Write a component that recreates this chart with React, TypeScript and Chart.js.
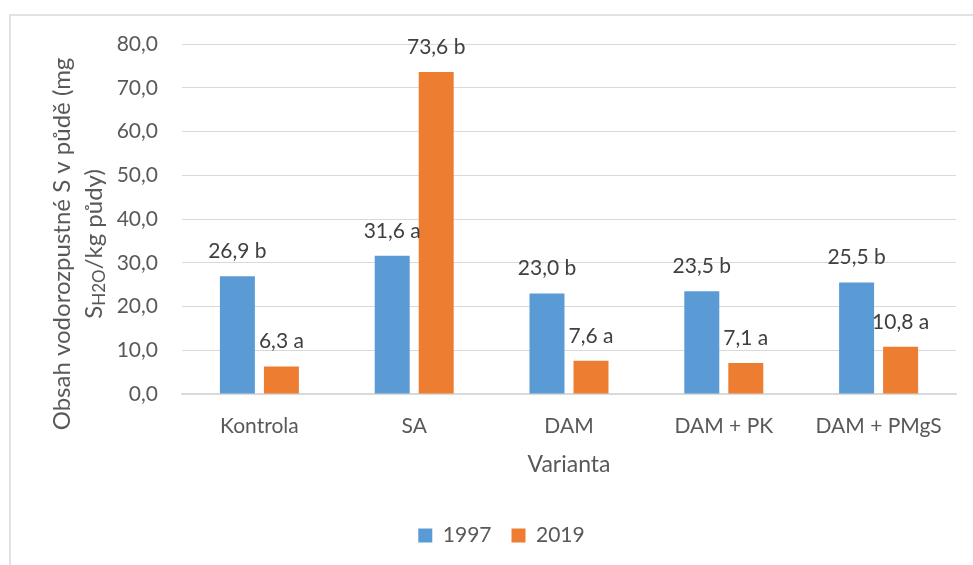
import React, { useEffect, useRef } from "react";
import { Chart, registerables } from "chart.js";

Chart.register(...registerables);

const categories = ["Kontrola", "SA", "DAM", "DAM + PK", "DAM + PMgS"];
const seriesNames = ["1997", "2019"];
const values1997 = [26.9, 31.6, 23.0, 23.5, 25.5];
const values2019 = [6.3, 73.6, 7.6, 7.1, 10.8];
const letters1997 = ["b", "a", "b", "b", "b"];
const letters2019 = ["a", "b", "a", "a", "a"];
const yMin = 0;
const yMax = 80;
const yStep = 10;
const xTitle = "Varianta";
const yTitleLine1 = "Obsah vodorozpustné S v půdě (mg";
const yTitleMain = "S";
const yTitleSub = "H2O";
const yTitleRest = "/kg půdy)";

const FONT = "Lato, 'Open Sans', sans-serif";
const BLUE = "#5B9BD5";
const ORANGE = "#ED7D31";
const TEXT = "#595959";
const LABEL = "#404040";
const GRID = "#d9d9d9";

const fmt = (v: number) => v.toFixed(1).replace(".", ",");

const letters = [letters1997, letters2019];

const frameAndTitlePlugin = {
  id: "frameAndTitle",
  beforeDraw(chart: any) {
    const ctx = chart.ctx;
    ctx.save();
    ctx.fillStyle = "#ffffff";
    ctx.fillRect(0, 0, chart.width, chart.height);
    ctx.strokeStyle = GRID;
    ctx.lineWidth = 1.5;
    ctx.strokeRect(10, 15, chart.width + 20, chart.height + 20);
    ctx.restore();
  },
  afterDatasetsDraw(chart: any) {
    const ctx = chart.ctx;
    ctx.save();
    ctx.font = `21px ${FONT}`;
    ctx.fillStyle = LABEL;
    ctx.textAlign = "center";
    ctx.textBaseline = "alphabetic";
    chart.data.datasets.forEach((ds: any, di: number) => {
      const meta = chart.getDatasetMeta(di);
      meta.data.forEach((bar: any, i: number) => {
        const txt = fmt(ds.data[i]) + " " + letters[di][i];
        ctx.fillText(txt, bar.x, bar.y - 18);
      });
    });
    ctx.restore();
  },
  afterDraw(chart: any) {
    const ctx = chart.ctx;
    const big = `24px ${FONT}`;
    const small = `17px ${FONT}`;
    ctx.save();
    ctx.fillStyle = TEXT;
    ctx.textBaseline = "alphabetic";
    ctx.translate(70, 244);
    ctx.rotate(-Math.PI / 2);
    ctx.font = big;
    ctx.textAlign = "center";
    ctx.fillText(yTitleLine1, 0, 0);
    ctx.restore();

    ctx.save();
    ctx.fillStyle = TEXT;
    ctx.textBaseline = "alphabetic";
    ctx.translate(102, 244);
    ctx.rotate(-Math.PI / 2);
    ctx.textAlign = "left";
    ctx.font = big;
    const w1 = ctx.measureText(yTitleMain).width;
    const w3 = ctx.measureText(yTitleRest).width;
    ctx.font = small;
    const w2 = ctx.measureText(yTitleSub).width;
    let x = -(w1 + w2 + w3) / 2;
    ctx.font = big;
    ctx.fillText(yTitleMain, x, 0);
    x += w1;
    ctx.font = small;
    ctx.fillText(yTitleSub, x, 3);
    x += w2;
    ctx.font = big;
    ctx.fillText(yTitleRest, x, 0);
    ctx.restore();
  },
};

export default function App() {
  const ref = useRef<HTMLCanvasElement | null>(null);

  useEffect(() => {
    if (!ref.current) return;
    const chart = new Chart(ref.current, {
      type: "bar",
      data: {
        labels: categories,
        datasets: [
          {
            label: seriesNames[0],
            data: values1997,
            backgroundColor: BLUE,
            categoryPercentage: 0.5685,
            barPercentage: 0.795,
          },
          {
            label: seriesNames[1],
            data: values2019,
            backgroundColor: ORANGE,
            categoryPercentage: 0.5685,
            barPercentage: 0.795,
          },
        ],
      },
      options: {
        responsive: false,
        animation: false,
        layout: { padding: { top: 44, right: 17, bottom: 9, left: 47 } },
        plugins: {
          legend: {
            display: true,
            position: "bottom",
            labels: {
              boxWidth: 14,
              boxHeight: 14,
              padding: 20,
              color: TEXT,
              font: { family: FONT, size: 21 },
            },
          },
          tooltip: { enabled: false },
        },
        scales: {
          x: {
            grid: { display: false, drawTicks: false },
            border: { display: true, color: GRID, width: 1.5 },
            ticks: {
              color: TEXT,
              font: { family: FONT, size: 21 },
              padding: 20,
              maxRotation: 0,
            },
            title: {
              display: true,
              text: xTitle,
              color: TEXT,
              font: { family: FONT, size: 23 },
              padding: { top: 0, bottom: 27 },
            },
            afterFit(scale: any) {
              scale.height = 111;
            },
          },
          y: {
            min: yMin,
            max: yMax,
            grid: { color: GRID, lineWidth: 1, drawTicks: false },
            border: { display: false },
            ticks: {
              stepSize: yStep,
              color: TEXT,
              font: { family: FONT, size: 21 },
              padding: 24,
              callback: (v: any) => fmt(Number(v)),
            },
            afterFit(scale: any) {
              scale.width = 135;
            },
          },
        },
      },
      plugins: [frameAndTitlePlugin],
    });
    return () => chart.destroy();
  }, []);

  return (
    <div style={{ position: "absolute", left: 0, top: 0, width: 973, height: 565 }}>
      <canvas ref={ref} width={973} height={565} style={{ display: "block" }} />
    </div>
  );
}
